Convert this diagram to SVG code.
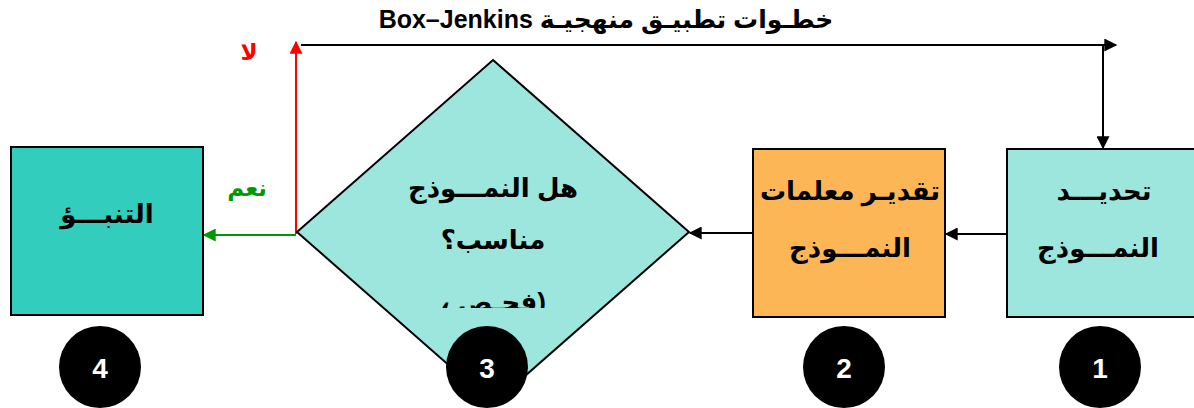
<svg xmlns="http://www.w3.org/2000/svg" width="1194" height="408" viewBox="0 0 1194 408">
<style>
.t{font-family:"Liberation Sans","DejaVu Sans",sans-serif;font-weight:bold;font-size:26px;fill:#000;text-anchor:middle;direction:rtl}
.box{stroke:#000;stroke-width:2}
.num{font-family:"Liberation Sans",Arial,sans-serif;font-weight:bold;font-size:28px;fill:#fff;text-anchor:middle}
.ln{fill:none;stroke-width:2}
.lbl{font-family:"Liberation Sans","DejaVu Sans",sans-serif;font-weight:bold;font-size:23px;text-anchor:middle}
</style>
<defs>
<marker id="ab" viewBox="0 0 10 10" refX="9" refY="5" markerWidth="14" markerHeight="13" markerUnits="userSpaceOnUse" orient="auto"><path d="M0,0L10,5L0,10z" fill="#000"/></marker>
<marker id="ar" viewBox="0 0 10 10" refX="9" refY="5" markerWidth="14" markerHeight="13" markerUnits="userSpaceOnUse" orient="auto"><path d="M0,0L10,5L0,10z" fill="#f00"/></marker>
<marker id="ag" viewBox="0 0 10 10" refX="9" refY="5" markerWidth="14" markerHeight="13" markerUnits="userSpaceOnUse" orient="auto"><path d="M0,0L10,5L0,10z" fill="#090"/></marker>
<clipPath id="dc"><rect x="290" y="50" width="410" height="258"/></clipPath>
</defs>
<text class="t" x="606" y="28" style="font-size:25px">خطـوات تطبيـق منهجيـة Box–Jenkins</text>
<g id="connectors">
<path class="ln" stroke="#000" d="M301,45H1116" marker-end="url(#ab)"/>
<path class="ln" stroke="#000" d="M1103,45V148" marker-end="url(#ab)"/>
<path class="ln" stroke="#000" d="M1007,234H946" marker-end="url(#ab)"/>
<path class="ln" stroke="#000" d="M753,233H690" marker-end="url(#ab)"/>
<path class="ln" stroke="#f00" d="M296,234V42" marker-end="url(#ar)"/>
<path class="ln" stroke="#090" d="M296,235H204" marker-end="url(#ag)"/>
<text class="lbl" x="249" y="60" fill="#f00">لا</text>
<text class="lbl" x="247" y="196" fill="#090">نعم</text>
</g>
<g id="node1">
<rect class="box" x="1007" y="149" width="192" height="168" fill="#9CE6DE"/>
<text class="t" x="1104" y="200">تحديـــد</text>
<text class="t" x="1098" y="257">النمـــوذج</text>
</g>
<g id="node2">
<rect class="box" x="753" y="149" width="192" height="168" fill="#FDB655"/>
<text class="t" x="850" y="200">تقديـر معلمات</text>
<text class="t" x="850" y="257">النمـــوذج</text>
</g>
<g id="node3">
<path class="box" d="M493,60L689,232L493,404L297,232Z" fill="#9CE6DE" stroke-width="1.5"/>
<text class="t" x="493" y="197">هل النمـــوذج</text>
<text class="t" x="493" y="249">مناسب؟</text>
<text class="t" x="493" y="311" clip-path="url(#dc)">(فحـص ،</text>
</g>
<g id="node4">
<rect class="box" x="11" y="147" width="192" height="168" fill="#33CDBD"/>
<text class="t" x="107" y="223">التنبـــؤ</text>
</g>
<g id="badge1"><circle cx="1100" cy="367" r="41"/><text class="num" x="1100" y="378">1</text></g>
<g id="badge2"><circle cx="844" cy="367" r="41"/><text class="num" x="844" y="378">2</text></g>
<g id="badge3"><circle cx="487" cy="367" r="41"/><text class="num" x="487" y="378">3</text></g>
<g id="badge4"><circle cx="100" cy="367" r="41"/><text class="num" x="100" y="378">4</text></g>
</svg>
